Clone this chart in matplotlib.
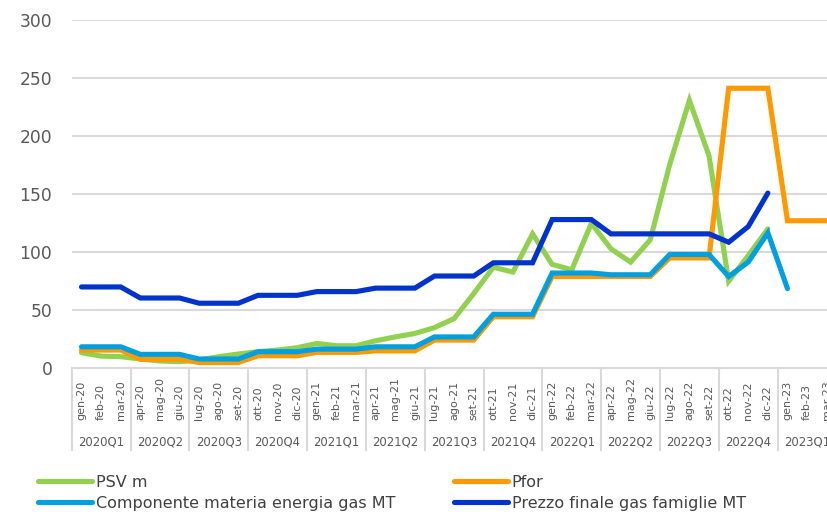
import numpy as np
import matplotlib
matplotlib.use("Agg")
import matplotlib.pyplot as plt
import matplotlib.transforms as mtransforms

# mesi e trimestri
mesi = ["gen", "feb", "mar", "apr", "mag", "giu", "lug", "ago", "set", "ott", "nov", "dic"]
month_labels = [f"{m}-{y}" for y in ["20", "21", "22"] for m in mesi] + ["gen-23", "feb-23", "mar-23"]
quarter_labels = [f"{y}Q{q}" for y in [2020, 2021, 2022] for q in range(1, 5)] + ["2023Q1"]

# serie
psv = [13.4, 10.5, 10, 8, 6.3, 5.7, 7.1, 10, 12.3, 14.3, 15.7, 17.7,
       21.4, 19.4, 19.4, 23.7, 27, 30, 35, 42.8, 64.3, 87, 82.8, 115.7,
       89.4, 84.8, 124.8, 102.8, 91.4, 110.5, 175.7, 230.6, 182.8, 75, 97, 120]
pfor = [15.7, 15.7, 15.7, 7.7, 7.7, 7.7, 5, 5, 5, 10.8, 10.8, 10.8,
        13.7, 13.7, 13.7, 15, 15, 15, 24.3, 24.3, 24.3, 44.3, 44.3, 44.3,
        79, 79, 79, 79, 79, 79, 95, 95, 95, 241, 241, 241,
        127, 127, 127]
componente = [18.5, 18.5, 18.5, 12, 12, 12, 8, 8, 8, 14.3, 14.3, 14.3,
              16.5, 16.5, 16.5, 18.5, 18.5, 18.5, 27, 27, 27, 46.5, 46.5, 46.5,
              82, 82, 82, 80.5, 80.5, 80.5, 98, 98, 98, 79, 91.4, 116.6,
              68.6]
prezzo = [70, 70, 70, 60.5, 60.5, 60.5, 56, 56, 56, 62.8, 62.8, 62.8,
          66, 66, 66, 69, 69, 69, 79.4, 79.4, 79.4, 90.8, 90.8, 90.8,
          128, 128, 128, 115.7, 115.7, 115.7, 115.7, 115.7, 115.7, 108.5, 122, 150.8]

series = [
    ("PSV m", psv, "#92D050"),
    ("Pfor", pfor, "#FF9900"),
    ("Componente materia energia gas MT", componente, "#00A0E0"),
    ("Prezzo finale gas famiglie MT", prezzo, "#0033CC"),
]

grey = "#595959"
grid_col = "#D9D9D9"
W, H = 827, 514

fig = plt.figure(figsize=(W / 100, H / 100), dpi=100)
# l'asse continua oltre il bordo destro (tagliato come nell'originale)
ax = fig.add_axes([71.7 / W, (H - 368.3) / H, 764.8 / W, 348.6 / H])

handles = {}
for name, vals, col in series:
    ln, = ax.plot(np.arange(len(vals)), vals, color=col, lw=3.7,
                  solid_joinstyle="miter", solid_capstyle="round", label=name)
    handles[name] = ln

ax.set_xlim(-0.5, len(month_labels) - 0.5)
ax.set_ylim(0, 300)
ax.set_yticks(range(0, 301, 50))
ax.yaxis.grid(True, color=grid_col, lw=1.5)
ax.set_axisbelow(True)
for s in ["left", "right", "top"]:
    ax.spines[s].set_visible(False)
ax.spines["bottom"].set_color(grid_col)
ax.spines["bottom"].set_linewidth(1.5)
ax.tick_params(axis="y", length=0, pad=14, labelsize=12.3, labelcolor=grey)
ax.set_xticks([])

# etichette dei mesi (ruotate) e dei trimestri
xt = ax.get_xaxis_transform()
month_tr = mtransforms.offset_copy(xt, fig=fig, x=0, y=-51.7, units="dots")
for i, lab in enumerate(month_labels):
    ax.text(i, 0, lab, transform=month_tr, rotation=90, ha="center", va="bottom",
            fontsize=8, color=grey, clip_on=False)
quarter_tr = mtransforms.offset_copy(xt, fig=fig, x=0, y=-73.4, units="dots")
for k, lab in enumerate(quarter_labels):
    ax.text(3 * k + 1, 0, lab, transform=quarter_tr, ha="center", va="center",
            fontsize=8.4, color=grey, clip_on=False)
for k in range(len(quarter_labels) + 1):
    ax.plot([3 * k - 0.5, 3 * k - 0.5], [0, -81.7 / 348.6], transform=xt,
            color=grid_col, lw=1.5, clip_on=False)

# legenda su due colonne
names = [s[0] for s in series]
leg_kw = dict(loc="upper left", frameon=False, fontsize=11.5, handlelength=3.4,
              handletextpad=0.2, borderpad=0, borderaxespad=0, labelspacing=0.37)
leg1 = fig.legend([handles[names[0]], handles[names[2]]], [names[0], names[2]],
                  bbox_to_anchor=(38 / W, 1 - 475 / H), **leg_kw)
leg2 = fig.legend([handles[names[1]], handles[names[3]]], [names[1], names[3]],
                  bbox_to_anchor=(454 / W, 1 - 475 / H), **leg_kw)
for lg in (leg1, leg2):
    for t in lg.get_texts():
        t.set_color("#404040")

fig.savefig("out.png", dpi=100)
